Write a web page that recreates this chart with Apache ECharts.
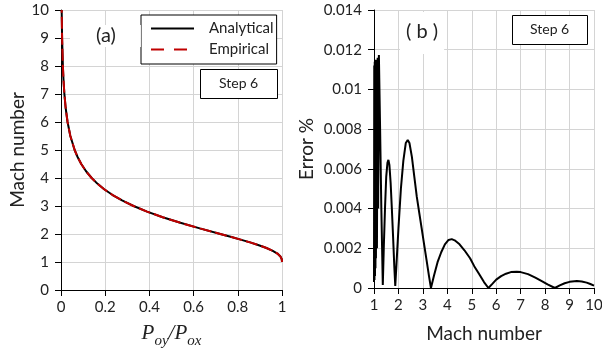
<!DOCTYPE html>
<html><head><meta charset="utf-8">
<script src="https://cdn.jsdelivr.net/npm/echarts@6/dist/echarts.min.js"></script>
<style>html,body{margin:0;padding:0;background:#fff}#c{width:602px;height:349px}</style>
</head><body><div id="c"></div>
<script>
// Panel (a): Mach number vs total pressure ratio Poy/Pox
const machA  = [1.00, 1.05, 1.10, 1.15, 1.20, 1.30, 1.40, 1.50, 1.60, 1.70, 1.80, 1.90, 2.00, 2.20, 2.40, 2.60, 2.80, 3.00, 3.20, 3.40, 3.60, 3.80, 4.00, 4.25, 4.50, 4.75, 5.00, 5.50, 6.00, 6.50, 7.00, 7.50, 8.00, 9.00, 10.00];
const ratioA = [1.0000, 0.99985, 0.99893, 0.99669, 0.99280, 0.97935, 0.95819, 0.92978, 0.89520, 0.85573, 0.81268, 0.76736, 0.72087, 0.62812, 0.54015, 0.46012, 0.38946, 0.32834, 0.27623, 0.23198, 0.19525, 0.16448, 0.13876, 0.11258, 0.09170, 0.07508, 0.06172, 0.04234, 0.02965, 0.02113, 0.01535, 0.01133, 0.00849, 0.00496, 0.00304];
const ratioE = [1.0000, 0.99985, 0.99893, 0.99669, 0.99280, 0.97935, 0.95819, 0.92978, 0.89520, 0.85573, 0.81268, 0.76736, 0.72087, 0.62812, 0.54015, 0.46012, 0.38946, 0.32834, 0.27623, 0.23198, 0.19525, 0.16448, 0.13876, 0.11258, 0.09170, 0.07508, 0.06172, 0.04234, 0.02965, 0.02113, 0.01535, 0.01133, 0.00849, 0.00496, 0.00304];

// Panel (b): Error % vs Mach number
const errMach = [1.00, 1.01, 1.02, 1.03, 1.04, 1.05, 1.06, 1.07, 1.08, 1.10, 1.12, 1.15, 1.17, 1.20, 1.25, 1.30, 1.36,
  1.40, 1.45, 1.50, 1.55, 1.59, 1.63, 1.68, 1.73, 1.78, 1.83, 1.87,
  1.92, 2.00, 2.10, 2.20, 2.30, 2.38, 2.45, 2.55, 2.65, 2.75, 2.85, 2.95, 3.05, 3.15, 3.25, 3.33,
  3.45, 3.60, 3.75, 3.90, 4.05, 4.18, 4.30, 4.50, 4.70, 4.93, 5.10, 5.30, 5.50, 5.68,
  5.85, 6.00, 6.20, 6.40, 6.60, 6.84, 7.00, 7.30, 7.60, 7.90, 8.10, 8.40,
  8.60, 8.80, 9.00, 9.30, 9.50, 9.70, 9.85, 10.00];
const errPct = [0.0003, 0.0112, 0.0004, 0.0114, 0.0006, 0.0115, 0.0010, 0.0113, 0.0015, 0.0115, 0.0020, 0.0116, 0.0040, 0.01173, 0.0080, 0.0040, 0.00015,
  0.0020, 0.0040, 0.0056, 0.0063, 0.00645, 0.0062, 0.0053, 0.0040, 0.0026, 0.0011, 0.0001,
  0.0012, 0.0030, 0.0050, 0.0064, 0.0073, 0.00745, 0.0073, 0.0066, 0.0056, 0.0046, 0.0038, 0.0030, 0.0022, 0.0014, 0.0006, 0.0000,
  0.0006, 0.0013, 0.0018, 0.0022, 0.00242, 0.00246, 0.0024, 0.0022, 0.0019, 0.0015, 0.0011, 0.0007, 0.0003, 0.0000,
  0.00022, 0.00042, 0.00060, 0.00072, 0.00080, 0.00082, 0.00080, 0.00070, 0.00052, 0.00032, 0.00018, 0.0000,
  0.00013, 0.00024, 0.00031, 0.00035, 0.00033, 0.00027, 0.00020, 0.00012];

const zip = (a, b) => a.map((v, i) => [v, b[i]]);
const FONT = 'Lato';
const fmt = v => String(parseFloat(v.toFixed(3)));
const axisCommon = {
  axisLine: {lineStyle: {color: '#000', width: 1}},
  axisTick: {show: true, inside: false, length: 6, lineStyle: {color: '#000'}},
  splitLine: {show: true, lineStyle: {color: '#d4d4d4', width: 1}},
  axisLabel: {color: '#222', fontFamily: FONT, fontSize: 15, formatter: fmt},
  nameTextStyle: {color: '#222', fontFamily: FONT, fontSize: 19}
};

const chart = echarts.init(document.getElementById('c'), null, {renderer: 'canvas'});
chart.setOption({
  animation: false,
  backgroundColor: '#fff',
  grid: [
    {left: 61, top: 10, width: 221, height: 280, containLabel: false, outerBoundsMode: 'none'},
    {left: 374, top: 10, width: 220, height: 278, containLabel: false, outerBoundsMode: 'none'}
  ],
  xAxis: [
    Object.assign({}, axisCommon, {gridIndex: 0, type: 'value', min: 0, max: 1, interval: 0.2,
      axisLabel: Object.assign({}, axisCommon.axisLabel, {margin: 10}),
      name: '{p|P}{s|oy}{p|/P}{s|ox}', nameLocation: 'middle', nameGap: 33,
      nameTextStyle: {rich: {
        p: {fontFamily: 'Liberation Serif', fontStyle: 'italic', fontSize: 21, color: '#222', verticalAlign: 'bottom', padding: [0, 0, 5, 0]},
        s: {fontFamily: 'Liberation Serif', fontStyle: 'italic', fontSize: 15, color: '#222', verticalAlign: 'bottom'}
      }}}),
    Object.assign({}, axisCommon, {gridIndex: 1, type: 'value', min: 1, max: 10, interval: 1,
      axisLabel: Object.assign({}, axisCommon.axisLabel, {margin: 10}),
      name: 'Mach number', nameLocation: 'middle', nameGap: 36})
  ],
  yAxis: [
    Object.assign({}, axisCommon, {gridIndex: 0, type: 'value', min: 0, max: 10, interval: 1,
      axisLabel: Object.assign({}, axisCommon.axisLabel, {margin: 12}),
      name: 'Mach number', nameLocation: 'middle', nameGap: 30}),
    Object.assign({}, axisCommon, {gridIndex: 1, type: 'value', min: 0, max: 0.014, interval: 0.002,
      axisLabel: Object.assign({}, axisCommon.axisLabel, {margin: 12}),
      name: 'Error %', nameLocation: 'middle', nameGap: 58})
  ],
  legend: {
    data: ['Analytical', {name: 'Empirical', lineStyle: {type: [13, 10]}}],
    orient: 'vertical', left: 141, top: 15,
    itemWidth: 43, itemHeight: 14, itemGap: 6,
    padding: [6, 3, 7, 9],
    borderColor: '#000', borderWidth: 1, backgroundColor: '#fff',
    itemStyle: {opacity: 0},
    textStyle: {color: '#222', fontFamily: FONT, fontSize: 15, padding: [0, 0, 0, 10]}
  },
  title: [
    {text: 'Step 6', left: 200, top: 69, padding: [7, 20, 9, 19], borderColor: '#000', borderWidth: 1, backgroundColor: '#fff',
      textStyle: {color: '#222', fontFamily: FONT, fontSize: 14, fontWeight: 'normal'}},
    {text: 'Step 6', left: 512, top: 15, padding: [7, 19, 9, 18], borderColor: '#000', borderWidth: 1, backgroundColor: '#fff',
      textStyle: {color: '#222', fontFamily: FONT, fontSize: 14, fontWeight: 'normal'}},
    {text: '(a)', left: 70, top: 25, padding: [1, 25, 1, 26], backgroundColor: '#fff',
      textStyle: {color: '#222', fontFamily: FONT, fontSize: 20, fontWeight: 'normal'}},
    {text: '( b )', left: 400, top: 12, padding: [10, 6, 12, 6], backgroundColor: '#fff',
      textStyle: {color: '#222', fontFamily: FONT, fontSize: 20, fontWeight: 'normal'}}
  ],
  series: [
    {name: 'Analytical', type: 'line', xAxisIndex: 0, yAxisIndex: 0, data: zip(ratioA, machA),
      symbol: 'none', smooth: false, lineStyle: {color: '#000', width: 2}, itemStyle: {color: '#000'}},
    {name: 'Empirical', type: 'line', xAxisIndex: 0, yAxisIndex: 0, data: zip(ratioE, machA),
      symbol: 'none', smooth: false, lineStyle: {color: '#c00000', width: 2, type: [12, 4]}, itemStyle: {color: '#c00000'}},
    {name: 'Error', type: 'line', xAxisIndex: 1, yAxisIndex: 1, data: zip(errMach, errPct),
      symbol: 'none', smooth: false, lineStyle: {color: '#000', width: 2}, itemStyle: {color: '#000'}}
  ]
});
</script>
</body></html>
